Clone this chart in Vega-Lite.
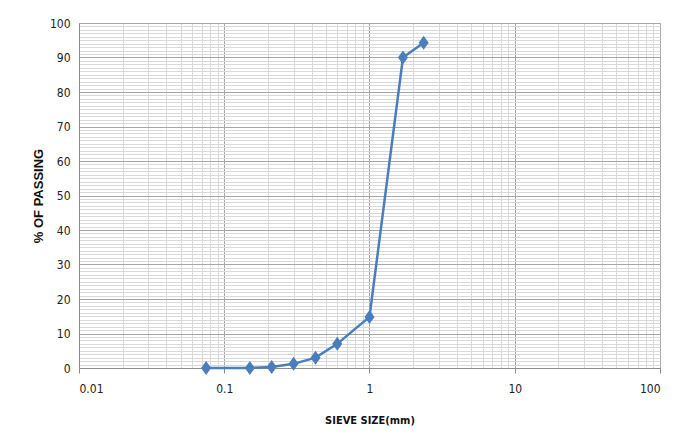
{
  "$schema": "https://vega.github.io/schema/vega-lite/v6.json",
  "width": 581,
  "height": 345,
  "autosize": "none",
  "padding": {"left": 79, "top": 23, "right": 28, "bottom": 80},
  "background": "white",
  "config": {
    "view": {"stroke": null},
    "font": "DejaVu Sans Condensed, Liberation Sans, sans-serif"
  },
  "data": {
    "values": [
      {"size": 0.075, "passing": 0},
      {"size": 0.15, "passing": 0},
      {"size": 0.212, "passing": 0.3},
      {"size": 0.3, "passing": 1.2},
      {"size": 0.425, "passing": 3},
      {"size": 0.6, "passing": 7},
      {"size": 1.0, "passing": 14.8},
      {"size": 1.7, "passing": 90},
      {"size": 2.36, "passing": 94.3}
    ]
  },
  "resolve": {"axis": {"x": "independent", "y": "independent"}},
  "layer": [
    {
      "mark": {"type": "point", "opacity": 0},
      "encoding": {
        "x": {
          "field": "size", "type": "quantitative",
          "scale": {"type": "log", "domain": [0.01, 100]},
          "axis": {
            "orient": "bottom",
            "values": [0.02,0.03,0.04,0.05,0.06,0.07,0.08,0.09,0.2,0.3,0.4,0.5,0.6,0.7,0.8,0.9,2,3,4,5,6,7,8,9,20,30,40,50,60,70,80,90],
            "grid": true, "gridColor": "#d9d9d9", "gridWidth": 1,
            "labels": false, "ticks": false, "domain": false, "title": null
          }
        },
        "y": {
          "field": "passing", "type": "quantitative",
          "scale": {"domain": [0, 100]},
          "axis": {
            "orient": "left",
            "values": [1,2,3,4,5,6,7,8,9,11,12,13,14,15,16,17,18,19,21,22,23,24,25,26,27,28,29,31,32,33,34,35,36,37,38,39,41,42,43,44,45,46,47,48,49,51,52,53,54,55,56,57,58,59,61,62,63,64,65,66,67,68,69,71,72,73,74,75,76,77,78,79,81,82,83,84,85,86,87,88,89,91,92,93,94,95,96,97,98,99],
            "grid": true, "gridColor": "#d9d9d9", "gridWidth": 1,
            "labels": false, "ticks": false, "domain": false, "title": null
          }
        }
      }
    },
    {
      "mark": {"type": "point", "opacity": 0},
      "encoding": {
        "x": {
          "field": "size", "type": "quantitative",
          "scale": {"type": "log", "domain": [0.01, 100]},
          "axis": {
            "orient": "bottom",
            "values": [0.01, 0.1, 1, 10, 100],
            "labelExpr": "datum.value < 1 ? (datum.value < 0.05 ? '0.01' : '0.1') : format(datum.value, 'd')",
            "grid": true, "gridColor": "#a6a6a6", "gridWidth": 1,
            "domainColor": "#8c8c8c", "tickColor": "#8c8c8c", "tickSize": 5,
            "labelFontSize": 12, "labelColor": "#222", "labelPadding": 10,
            "title": "SIEVE SIZE(mm)", "titleFontSize": 11, "titleFontWeight": "bold",
            "titleColor": "#111", "titlePadding": 20
          }
        },
        "y": {
          "field": "passing", "type": "quantitative",
          "scale": {"domain": [0, 100]},
          "axis": {
            "orient": "left",
            "values": [0,10,20,30,40,50,60,70,80,90,100],
            "grid": true, "gridColor": "#a6a6a6", "gridWidth": 1,
            "domainColor": "#8c8c8c", "ticks": false,
            "labelFontSize": 12, "labelColor": "#222", "labelPadding": 9,
            "title": "%  OF PASSING", "titleFont": "Liberation Sans", "titleFontSize": 13, "titleFontWeight": "bold",
            "titleColor": "#111", "titlePadding": 4
          }
        }
      }
    },
    {
      "mark": {
        "type": "line", "color": "#4a7ebb", "strokeWidth": 2.5,
        "point": {"shape": "M-0.72,0L0,-1L0.72,0L0,1Z", "size": 196, "filled": true, "color": "#4a7ebb", "opacity": 1}
      },
      "encoding": {
        "x": {"field": "size", "type": "quantitative", "scale": {"type": "log", "domain": [0.01, 100]}, "axis": null},
        "y": {"field": "passing", "type": "quantitative", "scale": {"domain": [0, 100]}, "axis": null}
      }
    }
  ]
}
